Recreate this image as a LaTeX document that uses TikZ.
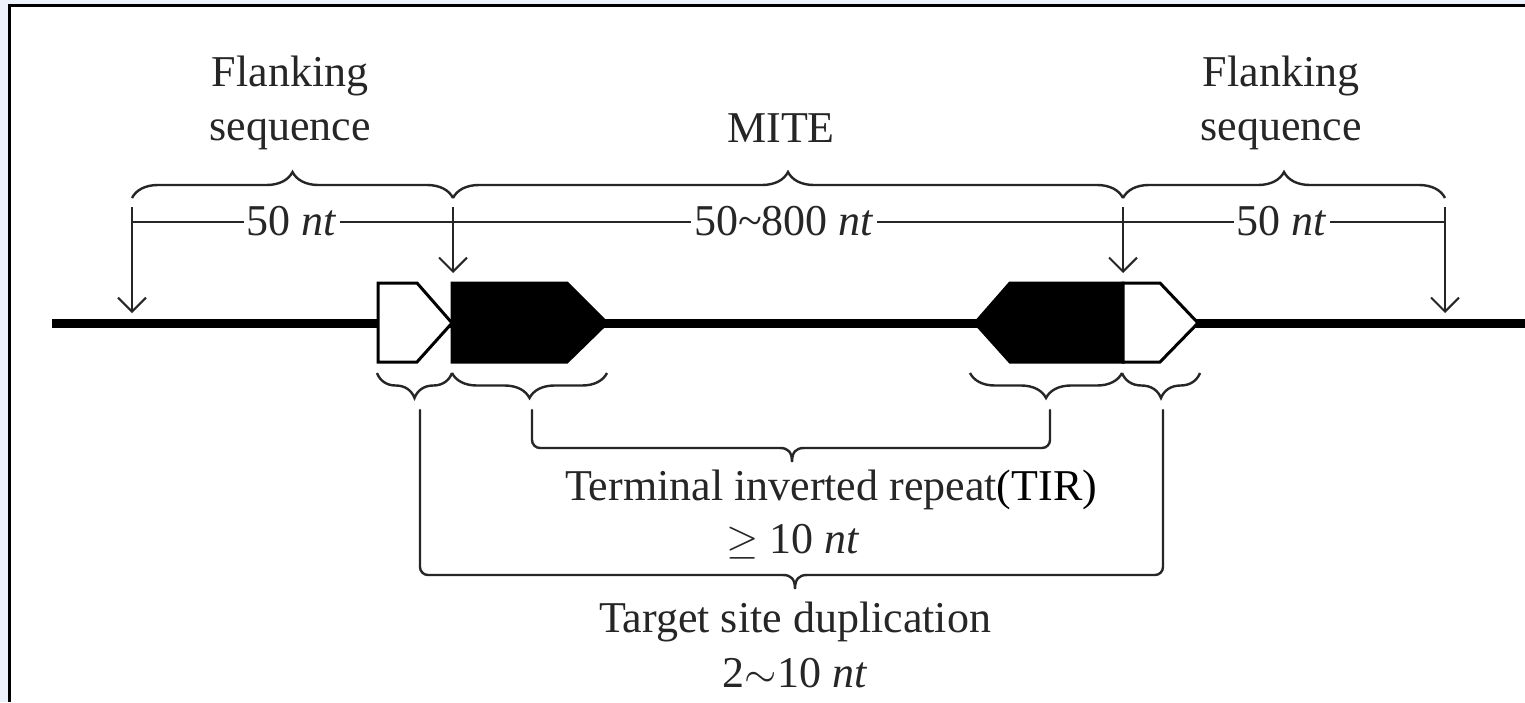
\documentclass[tikz,border=0pt]{standalone}
\usepackage{fontspec}
\setmainfont{Liberation Serif}
\usetikzlibrary{arrows.meta,decorations.pathreplacing}
\definecolor{outerbg}{HTML}{EEF2FA}
\definecolor{txt}{HTML}{262626}
\begin{document}
\begin{tikzpicture}[x=0.5pt,y=-0.5pt,
  lbl/.style={anchor=base,inner sep=0pt,text=txt,font=\fontsize{22}{26}\selectfont},
  dimlbl/.style={lbl,inner xsep=1.5pt},
  topbrace/.style={decorate,decoration={brace,amplitude=13pt},line width=1.2pt,draw=txt},
  botbrace/.style={decorate,decoration={brace,amplitude=12.5pt},line width=1.2pt,draw=txt},
  dimline/.style={line width=1pt,draw=txt},
  pointer/.style={line width=1pt,draw=txt,-{Straight Barb[length=7pt,width=14pt,line width=1pt]}},
  conn/.style={line width=1.2pt,draw=txt,line cap=round},
  whitebox/.style={fill=white,draw=black,line width=1.5pt,line join=miter},
  blackbox/.style={fill=black,draw=black,line width=1.5pt,line join=miter}]
\useasboundingbox (0,0) rectangle (1525,702);
% frame
\fill[outerbg] (0,0) rectangle (1525,702);
\fill[white] (9,5) rectangle (1525,702);
\draw[line width=1.5pt] (9,702) -- (9,5) -- (1525,5);

% key coordinates
\coordinate (xa) at (132,0);
\coordinate (xb) at (453,0);
\coordinate (xc) at (1123,0);
\coordinate (xd) at (1445,0);
\coordinate (dimy) at (0,222);
\coordinate (lineL) at (52,323);
\coordinate (lineR) at (1530,323);

% main DNA line
\draw[line width=4.5pt] (lineL) -- (lineR);

% elements
\path[whitebox] (378,283) -- (417,283) -- (452,323) -- (417,362) -- (378,362) -- cycle;
\path[blackbox] (452,283) -- (567,283) -- (607,323) -- (567,362) -- (452,362) -- cycle;
\path[blackbox] (975,323) -- (1010,283) -- (1123,283) -- (1123,362) -- (1010,362) -- cycle;
\path[whitebox] (1123,283) -- (1160,283) -- (1198,323) -- (1160,362) -- (1123,362) -- cycle;

% top labels
\node[lbl] (fl1) at (290,86) {Flanking};
\node[lbl] (fs1) at (290,140) {sequence};
\node[lbl] (mite) at (781,142) {MITE};
\node[lbl] (fl2) at (1281,86) {Flanking};
\node[lbl] (fs2) at (1281,140) {sequence};

% top braces
\draw[topbrace] (132,198) -- (453,198);
\draw[topbrace] (453,198) -- (1123,198);
\draw[topbrace] (1123,198) -- (1445,198);

% dimension labels
\node[dimlbl] (d1) at (292,235) {50 \textit{nt}};
\node[dimlbl] (d2) at (784,235) {50\textasciitilde800 \textit{nt}};
\node[dimlbl] (d3) at (1282,235) {50 \textit{nt}};

% dimension line
\draw[dimline] (xa |- dimy) -- (d1.west |- dimy);
\draw[dimline] (d1.east |- dimy) -- (d2.west |- dimy);
\draw[dimline] (d2.east |- dimy) -- (d3.west |- dimy);
\draw[dimline] (d3.east |- dimy) -- (xd |- dimy);

% pointers
\coordinate (pa) at (132,207); \coordinate (pa2) at (132,313);
\coordinate (pb) at (453,207); \coordinate (pb2) at (453,273);
\coordinate (pc) at (1123,207); \coordinate (pc2) at (1123,273);
\coordinate (pd) at (1445,207); \coordinate (pd2) at (1445,313);
\draw[pointer] (pa) -- (pa2);
\draw[pointer] (pb) -- (pb2);
\draw[pointer] (pc) -- (pc2);
\draw[pointer] (pd) -- (pd2);

% bottom braces
\draw[botbrace] (452,373) -- (377,373);
\draw[botbrace] (607,373) -- (452,373);
\draw[botbrace] (1122,373) -- (970,373);
\draw[botbrace] (1200,373) -- (1122,373);

% TIR connector
\coordinate (tirL) at (532,410);
\coordinate (tirR) at (1050,410);
\draw[conn,rounded corners=4pt] (tirL) -- (532,448) -- (780,448);
\draw[conn] (780,448) .. controls (788,448) and (792,452) .. (792,462)
            .. controls (792,452) and (796,448) .. (804,448);
\draw[conn,rounded corners=4pt] (804,448) -- (1050,448) -- (tirR);

% TSD connector
\coordinate (tsdL) at (420,410);
\coordinate (tsdR) at (1163,410);
\draw[conn,rounded corners=4pt] (tsdL) -- (420,575) -- (783,575);
\draw[conn] (783,575) .. controls (791,575) and (795,579) .. (795,589)
            .. controls (795,579) and (799,575) .. (807,575);
\draw[conn,rounded corners=4pt] (807,575) -- (1163,575) -- (tsdR);

% bottom labels
\node[lbl] (tir) at (831,500) {Terminal inverted repeat\textcolor{black}{(TIR)}};
\node[lbl] (tirlen) at (793,553) {$\geq$ 10 \textit{nt}};
\node[lbl] (tsd) at (795,632) {Target site duplication};
\node[lbl] (tsdlen) at (795,687) {2$\sim$10 \textit{nt}};
\end{tikzpicture}
\end{document}
